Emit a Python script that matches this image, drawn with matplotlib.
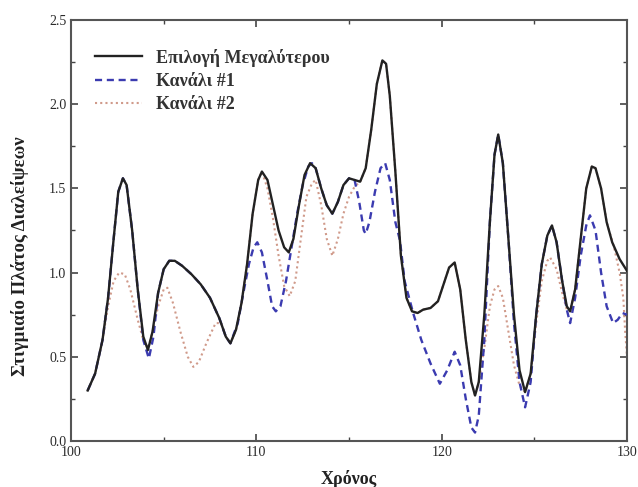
import matplotlib.pyplot as plt
from matplotlib.ticker import MultipleLocator

# values
t_max = [100.9, 101.3, 101.7, 102.0, 102.3, 102.55, 102.8, 103.0, 103.3, 103.6,
         103.9, 104.15, 104.4, 104.7, 105.0, 105.3, 105.6, 106.0, 106.5, 107.0,
         107.5, 108.0, 108.35, 108.6, 108.9, 109.2, 109.5, 109.8, 110.1, 110.3,
         110.6, 110.9, 111.2, 111.5, 111.75, 112.0, 112.3, 112.6, 112.9, 113.2,
         113.5, 113.8, 114.1, 114.4, 114.7, 115.0, 115.3, 115.6, 115.9, 116.2,
         116.5, 116.8, 117.0, 117.2, 117.5, 117.8, 118.1, 118.4, 118.7, 119.0,
         119.4, 119.8, 120.1, 120.4, 120.7, 121.0, 121.3, 121.6, 121.8, 122.0,
         122.3, 122.6, 122.85, 123.05, 123.3, 123.6, 123.9, 124.2, 124.5, 124.8,
         125.1, 125.4, 125.7, 125.95, 126.2, 126.5, 126.75, 126.93, 127.2, 127.5,
         127.8, 128.1, 128.3, 128.6, 128.9, 129.2, 129.6, 130.0]
a_max = [0.30, 0.40, 0.60, 0.85, 1.20, 1.48, 1.56, 1.52, 1.25, 0.90,
         0.62, 0.54, 0.65, 0.88, 1.02, 1.07, 1.07, 1.04, 0.99, 0.93,
         0.85, 0.73, 0.62, 0.58, 0.66, 0.82, 1.05, 1.35, 1.55, 1.60,
         1.55, 1.40, 1.25, 1.15, 1.12, 1.20, 1.40, 1.58, 1.65, 1.62,
         1.50, 1.40, 1.35, 1.42, 1.52, 1.56, 1.55, 1.54, 1.62, 1.85,
         2.12, 2.26, 2.24, 2.05, 1.60, 1.10, 0.85, 0.77, 0.76, 0.78,
         0.79, 0.83, 0.93, 1.03, 1.06, 0.90, 0.60, 0.35, 0.27, 0.35,
         0.75, 1.30, 1.70, 1.82, 1.65, 1.20, 0.75, 0.42, 0.29, 0.40,
         0.75, 1.05, 1.22, 1.28, 1.18, 0.95, 0.80, 0.77, 0.90, 1.20,
         1.50, 1.63, 1.62, 1.50, 1.30, 1.18, 1.08, 1.01]

t_ch1 = [100.9, 101.3, 101.7, 102.0, 102.3, 102.55, 102.8, 103.0, 103.3, 103.6,
         103.9, 104.2, 104.45, 104.7, 105.0, 105.3, 105.6, 106.0, 106.5, 107.0,
         107.5, 108.0, 108.35, 108.6, 109.0, 109.3, 109.6, 109.85, 110.05, 110.3,
         110.6, 110.85, 111.05, 111.3, 111.6, 111.9, 112.2, 112.5, 112.8, 113.0,
         113.2, 113.5, 113.8, 114.1, 114.4, 114.7, 115.0, 115.3, 115.55, 115.8,
         115.9, 116.1, 116.4, 116.7, 116.95, 117.2, 117.5, 117.75, 118.0, 118.46,
         118.9, 119.4, 119.9, 120.3, 120.7, 121.0, 121.3, 121.6, 121.8, 122.0,
         122.3, 122.6, 122.85, 123.05, 123.3, 123.6, 123.9, 124.2, 124.5, 124.8,
         125.1, 125.4, 125.7, 125.95, 126.2, 126.5, 126.75, 126.93, 127.2, 127.5,
         127.8, 128.0, 128.3, 128.6, 128.9, 129.25, 129.5, 129.75, 130.0]
a_ch1 = [0.30, 0.40, 0.60, 0.85, 1.20, 1.48, 1.56, 1.52, 1.25, 0.90,
         0.60, 0.49, 0.62, 0.88, 1.02, 1.07, 1.07, 1.04, 0.99, 0.93,
         0.85, 0.73, 0.62, 0.58, 0.70, 0.88, 1.05, 1.15, 1.18, 1.12,
         0.95, 0.80, 0.77, 0.80, 0.95, 1.15, 1.35, 1.52, 1.63, 1.65,
         1.62, 1.50, 1.40, 1.35, 1.42, 1.52, 1.56, 1.55, 1.42, 1.25,
         1.23, 1.30, 1.48, 1.62, 1.65, 1.55, 1.30, 1.19, 0.95, 0.76,
         0.60, 0.46, 0.34, 0.42, 0.53, 0.45, 0.25, 0.08, 0.05, 0.15,
         0.60, 1.30, 1.70, 1.82, 1.65, 1.20, 0.70, 0.35, 0.20, 0.35,
         0.75, 1.05, 1.22, 1.28, 1.18, 0.95, 0.78, 0.70, 0.85, 1.10,
         1.28, 1.34, 1.25, 1.00, 0.80, 0.70, 0.72, 0.76, 0.75]

t_ch2 = [100.9, 101.3, 101.7, 102.0, 102.3, 102.6, 102.9, 103.2, 103.6, 103.9,
         104.15, 104.4, 104.7, 105.0, 105.2, 105.5, 105.9, 106.3, 106.6, 106.9,
         107.3, 107.8, 108.1, 108.35, 108.6, 108.9, 109.2, 109.5, 109.8, 110.1,
         110.3, 110.6, 110.9, 111.2, 111.5, 111.8, 112.1, 112.4, 112.7, 113.0,
         113.2, 113.5, 113.8, 114.1, 114.4, 114.7, 115.0, 115.3, 115.6, 115.9,
         116.2, 116.5, 116.8, 117.0, 117.2, 117.5, 117.8, 118.1, 118.4, 118.7,
         119.0, 119.4, 119.8, 120.1, 120.4, 120.7, 121.0, 121.3, 121.6, 121.8,
         122.0, 122.3, 122.6, 122.85, 123.05, 123.3, 123.6, 123.9, 124.2, 124.5,
         124.8, 125.1, 125.4, 125.7, 125.85, 126.2, 126.5, 126.75, 126.93, 127.2,
         127.5, 127.8, 128.1, 128.3, 128.6, 128.9, 129.3, 129.6, 129.8, 129.9, 130.0]
a_ch2 = [0.30, 0.40, 0.60, 0.80, 0.95, 1.00, 0.99, 0.90, 0.72, 0.60,
         0.55, 0.65, 0.80, 0.90, 0.91, 0.82, 0.65, 0.50, 0.44, 0.47,
         0.58, 0.70, 0.70, 0.62, 0.58, 0.66, 0.82, 1.05, 1.35, 1.55,
         1.60, 1.50, 1.32, 1.10, 0.92, 0.86, 0.95, 1.20, 1.45, 1.53,
         1.55, 1.40, 1.20, 1.10, 1.20, 1.35, 1.45, 1.51, 1.54, 1.62,
         1.85, 2.12, 2.26, 2.24, 2.05, 1.60, 1.10, 0.85, 0.77, 0.76,
         0.78, 0.79, 0.83, 0.93, 1.03, 1.06, 0.90, 0.60, 0.35, 0.27,
         0.35, 0.55, 0.80, 0.90, 0.92, 0.85, 0.65, 0.45, 0.33, 0.29,
         0.40, 0.70, 0.95, 1.07, 1.09, 1.02, 0.88, 0.78, 0.77, 0.90,
         1.20, 1.50, 1.63, 1.62, 1.50, 1.30, 1.15, 1.00, 0.85, 0.65, 0.50]

labels = ["Επιλογή Μεγαλύτερου", "Κανάλι #1", "Κανάλι #2"]

plt.rcParams['font.family'] = ['Liberation Serif', 'DejaVu Serif']

fig = plt.figure(figsize=(6.38, 4.87), dpi=100)
ax = fig.add_axes([0.1113, 0.0945, 0.8715, 0.8644])

# black drawn last so it sits on top where the channels coincide with it
ax.plot(t_max, a_max, color='#222222', lw=1.7, label=labels[0], zorder=4)
ax.plot(t_ch1, a_ch1, color='#3b3bb0', lw=1.7, ls=(0, (3, 2)), label=labels[1], zorder=3)
ax.plot(t_ch2, a_ch2, color='#d09a8a', lw=1.5, ls=(0, (1, 1.5)), label=labels[2], zorder=2)

ax.set_xlim(100, 130)
ax.set_ylim(0, 2.5)
ax.xaxis.set_major_locator(MultipleLocator(10))
ax.xaxis.set_minor_locator(MultipleLocator(5))
ax.yaxis.set_major_locator(MultipleLocator(0.5))
ax.yaxis.set_minor_locator(MultipleLocator(0.25))
ax.yaxis.set_major_formatter(plt.FormatStrFormatter('%.1f'))
ax.tick_params(which='both', direction='in', top=True, right=True,
               color='#444444', labelsize=10, labelcolor='#2a2a2a')
ax.tick_params(which='major', length=5, width=1.2)
ax.tick_params(which='minor', length=3, width=1.0)
for s in ax.spines.values():
    s.set_linewidth(1.5)
    s.set_color('#555555')

ax.set_xlabel("Χρόνος", fontsize=13, color='#222222', fontweight='bold')
ax.xaxis.set_label_coords(0.5, -0.07)
ax.set_ylabel("Στιγμιαίο Πλάτος Διαλείψεων", fontsize=13.5, color='#222222',
              fontweight='bold')
ax.yaxis.set_label_coords(-0.075, 0.44)

ax.legend(loc='upper left', bbox_to_anchor=(0.02, 0.962), frameon=False,
          prop={'size': 13, 'weight': 'bold'}, handlelength=2.6,
          labelspacing=0.35, borderaxespad=0.3, labelcolor='#333333')

fig.savefig("out.png", dpi=100)
